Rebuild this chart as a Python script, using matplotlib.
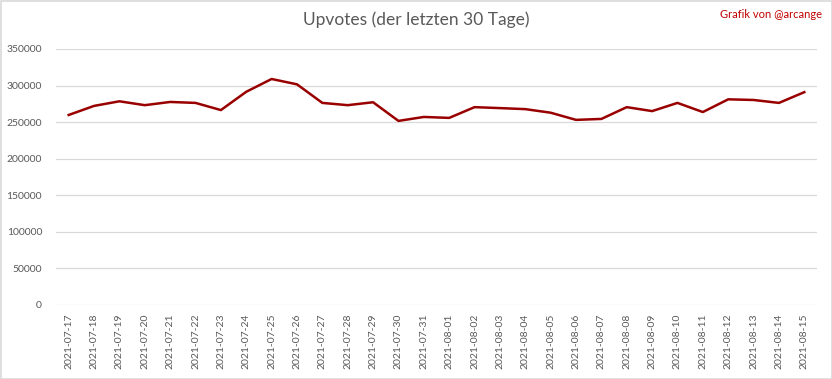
import matplotlib
matplotlib.use("Agg")
import matplotlib.pyplot as plt
from matplotlib.patches import Rectangle

dates = ["2021-07-17", "2021-07-18", "2021-07-19", "2021-07-20", "2021-07-21", "2021-07-22",
         "2021-07-23", "2021-07-24", "2021-07-25", "2021-07-26", "2021-07-27", "2021-07-28",
         "2021-07-29", "2021-07-30", "2021-07-31", "2021-08-01", "2021-08-02", "2021-08-03",
         "2021-08-04", "2021-08-05", "2021-08-06", "2021-08-07", "2021-08-08", "2021-08-09",
         "2021-08-10", "2021-08-11", "2021-08-12", "2021-08-13", "2021-08-14", "2021-08-15"]
upvotes = [259800, 272200, 278500, 273200, 277600, 276300, 266500, 291500, 309000, 301700,
           276300, 273200, 277200, 251700, 257100, 255800, 270500, 269200, 267800, 262900,
           253100, 254400, 270500, 265100, 276300, 263800, 281200, 280300, 276300, 291000]
yticks = [0, 50000, 100000, 150000, 200000, 250000, 300000, 350000]

plt.rcParams['font.family'] = ['Lato', 'DejaVu Sans']

fig = plt.figure(figsize=(8.32, 3.79), dpi=100)
ax = fig.add_axes([56/832, 1-305/379, (817-56)/832, (305-49)/379])

x = list(range(len(dates)))
ax.plot(x, upvotes, color="#990000", linewidth=1.8, solid_joinstyle="round")

ax.set_xlim(-0.5, len(dates) - 0.5)
ax.set_ylim(0, 350000)
ax.set_yticks(yticks)
ax.set_yticklabels([str(v) for v in yticks], fontsize=7.5, color="#595959")
ax.set_xticks(x)
ax.set_xticklabels(dates, rotation=90, fontsize=7.5, color="#595959")
ax.tick_params(axis='both', length=0)
ax.tick_params(axis='y', pad=10)
ax.tick_params(axis='x', pad=6)
ax.grid(axis='y', color="#D9D9D9", linewidth=0.9)
ax.set_axisbelow(True)
for s in ax.spines.values():
    s.set_visible(False)

fig.text(416/832, 1-20/379, "Upvotes (der letzten 30 Tage)", ha="center", va="center",
         fontsize=12.5, color="#595959")
fig.text(822/832, 1-15/379, "Grafik von @arcange", ha="right", va="center",
         fontsize=8, color="#C00000")

fig.patches.append(Rectangle((0.5/832, 0.5/379), 1-1/832, 1-1/379, transform=fig.transFigure,
                             fill=False, edgecolor="#D9D9D9", linewidth=1.2))

fig.savefig("out.png", dpi=100, facecolor="white")
